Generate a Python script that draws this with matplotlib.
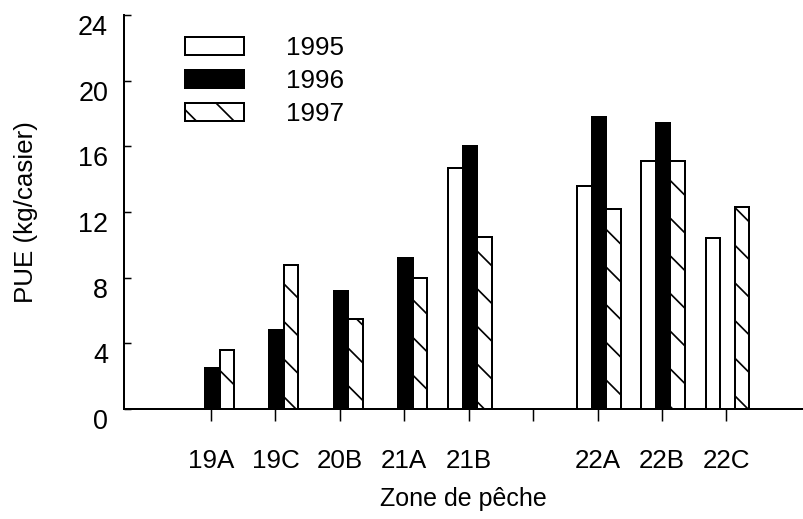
import numpy as np
import matplotlib
matplotlib.use('Agg')
import matplotlib.pyplot as plt

DPI = 113
PX = 72 / DPI  # points per pixel

plt.rcParams['font.family'] = ['Liberation Sans', 'DejaVu Sans']
plt.rcParams['hatch.linewidth'] = 1.7 * PX
plt.rcParams['hatch.color'] = 'black'

# fishing zones and catch per unit effort (kg/casier)
zones = ['19A', '19C', '20B', '21A', '21B', '22A', '22B', '22C']
pue_1995 = [np.nan, np.nan, np.nan, np.nan, 14.7, 13.6, 15.1, 10.4]
pue_1996 = [2.5, 4.8, 7.2, 9.2, 16.0, 17.8, 17.4, np.nan]
pue_1997 = [3.6, 8.8, 5.5, 8.0, 10.5, 12.2, 15.1, 12.3]
years = ['1995', '1996', '1997']
yticks = [0, 4, 8, 12, 16, 20, 24]

fig = plt.figure(figsize=(803 / DPI, 519 / DPI), dpi=DPI)
ax = fig.add_axes([124 / 803, 110 / 519, 679 / 803, 394 / 519])

# gap between the 21 and 22 zones
idx = np.arange(len(zones))
x = idx + (idx >= 5)
w = 0.225
shift = 0.02
lw = 2 * PX

ax.bar(x - w + shift, pue_1995, w, color='white', edgecolor='black', lw=lw, label=years[0])
ax.bar(x + shift, pue_1996, w, color='black', edgecolor='black', lw=lw, label=years[1])
ax.bar(x + w + shift, pue_1997, w, color='white', edgecolor='black', lw=lw,
       hatch='\\', label=years[2])

tick_pos = np.arange(x.max() + 1)
tick_lab = [''] * len(tick_pos)
for xi, z in zip(x, zones):
    tick_lab[xi] = z
ax.set_xticks(tick_pos)
ax.set_xticklabels(tick_lab)
ax.set_yticks(yticks)
ax.set_xlim(-1.351, 9.19)
ax.set_ylim(0, 24)

ax.tick_params(axis='x', direction='out', length=12 * PX, width=1.5 * PX,
               pad=28 * PX, labelsize=26 * PX)
ax.tick_params(axis='y', direction='in', length=7 * PX, width=1.5 * PX,
               pad=16 * PX, labelsize=27 * PX)
for lab in ax.get_yticklabels():
    lab.set_va('top')

for s in ['top', 'right']:
    ax.spines[s].set_visible(False)
for s in ['left', 'bottom']:
    ax.spines[s].set_linewidth(lw)

ax.set_ylabel('PUE (kg/casier)', fontsize=26 * PX, labelpad=40 * PX)
ax.set_xlabel('Zone de pêche', fontsize=25 * PX, labelpad=14 * PX)

ax.legend(loc='upper left', bbox_to_anchor=(185 / 803, 1 - 36 / 519),
          bbox_transform=fig.transFigure, frameon=False, fontsize=26 * PX,
          handlelength=59 / 26, handleheight=17 / 26, handletextpad=42 / 26,
          labelspacing=0.35, borderpad=0, borderaxespad=0)

fig.savefig('out.png', dpi=DPI)
